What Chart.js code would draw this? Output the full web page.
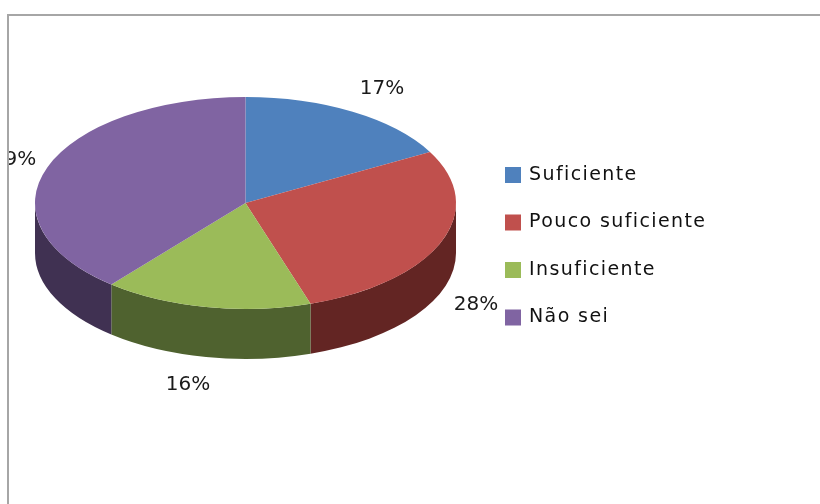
<!DOCTYPE html>
<html>
<head>
<meta charset="utf-8">
<style>html,body{margin:0;padding:0;background:#fff}canvas{display:block}</style>
<script src="https://cdn.jsdelivr.net/npm/chart.js@4"></script>
</head>
<body>
<canvas id="c" width="820" height="504"></canvas>
<script>
const categories = ['Suficiente', 'Pouco suficiente', 'Insuficiente', 'Não sei'];
const values = [17, 28, 16, 39];
const topColors = ['#4F81BD', '#C0504D', '#9BBB59', '#8064A2'];
const wallColors = ['#2C4A6E', '#632523', '#4F622F', '#403152'];
const labelAnchors = [[382, 89], [476, 305], [188, 385], [14, 160]];

const RADIUS = 210.5, SQUASH = 0.503, DEPTH = 50;
const CX = 245.5, CY = 203;
const LEGEND_SPACING = '1.4px';

const pie3d = {
  id: 'pie3d',
  beforeLayout(chart) {
    chart.ctx.letterSpacing = LEGEND_SPACING;
  },
  afterLayout(chart) {
    const a = chart.chartArea;
    a.left = 0; a.right = CX * 2; a.top = 0; a.bottom = CY * 2;
    a.width = CX * 2; a.height = CY * 2;
    const l = chart.legend;
    const w = l.width, h = l.height;
    l.left = 478; l.right = 478 + w;
    l.top = 137; l.bottom = 137 + h;
  },
  beforeDraw(chart) {
    const ctx = chart.ctx;
    ctx.save();
    ctx.fillStyle = '#fff';
    ctx.fillRect(0, 0, 820, 504);
    ctx.strokeStyle = '#A6A6A6';
    ctx.lineWidth = 2;
    ctx.beginPath();
    ctx.moveTo(8, 504);
    ctx.lineTo(8, 15);
    ctx.lineTo(820, 15);
    ctx.stroke();
    ctx.restore();
    ctx.letterSpacing = LEGEND_SPACING;
  },
  beforeDatasetsDraw(chart) {
    const ctx = chart.ctx;
    ctx.letterSpacing = '0px';
    const arcs = chart.getDatasetMeta(0).data;
    ctx.save();
    arcs.forEach((arc, i) => {
      const {startAngle, endAngle} = arc.getProps(['startAngle', 'endAngle'], true);
      const a = Math.max(startAngle, 0), b = Math.min(endAngle, Math.PI);
      if (b <= a) return;
      ctx.beginPath();
      ctx.ellipse(CX, CY, RADIUS, RADIUS * SQUASH, 0, a, b, false);
      ctx.ellipse(CX, CY + DEPTH, RADIUS, RADIUS * SQUASH, 0, b, a, true);
      ctx.closePath();
      ctx.fillStyle = wallColors[i];
      ctx.fill();
    });
    ctx.restore();
    ctx.save();
    ctx.translate(CX, CY);
    ctx.scale(1, SQUASH);
    ctx.translate(-CX, -CY);
  },
  afterDatasetsDraw(chart) {
    const ctx = chart.ctx;
    ctx.restore();
    ctx.save();
    ctx.beginPath();
    ctx.rect(9, 16, 811, 488);
    ctx.clip();
    ctx.font = '20px "DejaVu Sans"';
    ctx.fillStyle = '#1a1a1a';
    ctx.textAlign = 'center';
    ctx.textBaseline = 'middle';
    values.forEach((v, i) => {
      ctx.fillText(v + '%', labelAnchors[i][0], labelAnchors[i][1]);
    });
    ctx.restore();
  }
};

new Chart(document.getElementById('c'), {
  type: 'pie',
  data: {
    labels: categories,
    datasets: [{
      data: values,
      backgroundColor: topColors,
      borderWidth: 0,
      clip: false
    }]
  },
  options: {
    responsive: false,
    animation: false,
    radius: RADIUS,
    events: [],
    plugins: {
      tooltip: {enabled: false},
      legend: {
        position: 'right',
        align: 'start',
        labels: {
          padding: 28.5,
          boxWidth: 13,
          boxHeight: 13,
          color: '#111',
          font: {family: '"DejaVu Sans"', size: 19},
          generateLabels(chart) {
            return Chart.overrides.pie.plugins.legend.labels.generateLabels(chart).map(item => {
              item.strokeStyle = item.fillStyle;
              item.lineWidth = 3;
              return item;
            });
          }
        }
      }
    }
  },
  plugins: [pie3d]
});
</script>
</body>
</html>
